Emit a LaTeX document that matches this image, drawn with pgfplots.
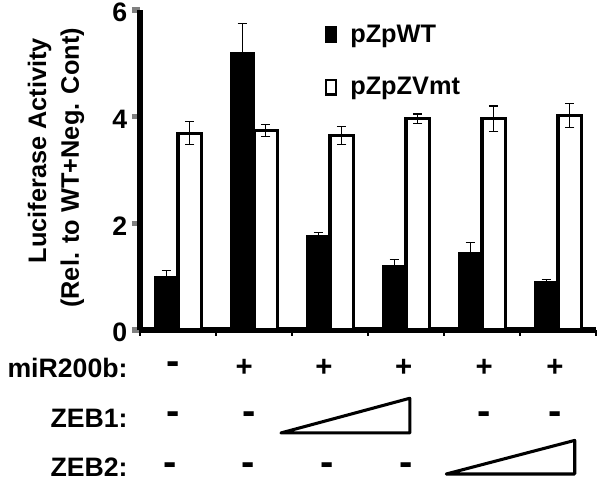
\documentclass[border=0pt]{standalone}
\usepackage{graphicx}
\usepackage{pgfplots}
\pgfplotsset{compat=1.18}
\usepackage{fontspec}
\setmainfont{Liberation Sans}
\newcommand{\dash}{\scalebox{1.5}{-}}
\begin{document}
\begin{tikzpicture}
\begin{axis}[
  at={(0,0)}, anchor=south west,
  scale only axis,
  width=342pt, height=240pt,
  xmin=-0.5, xmax=5.5, ymin=0, ymax=6,
  enlargelimits=false,
  clip=false,
  axis x line=bottom, axis y line=left,
  axis line style={-, line width=4.2pt},
  ytick={0,2,4,6},
  xtick=\empty,
  tick align=outside,
  major tick length=6pt,
  y tick style={line width=4.2pt},
  /pgf/number format/assume math mode=true,
  yticklabel style={font=\fontsize{20}{22}\selectfont\bfseries, xshift=0pt, yshift=-2pt},
  ybar=0pt,
  bar width=17.5pt,
  legend style={at={(axis cs:1.93,5.78)}, anchor=north west, draw=none, fill=none,
    font=\fontsize{19}{22}\selectfont\bfseries, row sep=21pt, inner sep=0pt,
    nodes={inner sep=2pt}},
  legend cell align=left,
  legend image code/.code={\draw[#1, line width=1.8pt] (0.9pt,-5.5pt) rectangle (8.5pt,5.5pt);
     \path[draw=none, fill=none] (0pt,0pt) rectangle (17pt,0.1pt);},
]
\addplot[fill=black, draw=black, line width=1pt,
  error bars/.cd, y dir=both, y explicit,
  error bar style={line width=0.8pt, black},
  error mark options={rotate=90, mark size=3.5pt, line width=0.8pt}]
coordinates {
  (0,1.00) +- (0,0.11)
  (1,5.20) +- (0,0.55)
  (2,1.76) +- (0,0.07)
  (3,1.21) +- (0,0.12)
  (4,1.45) +- (0,0.19)
  (5,0.90) +- (0,0.05)
};
\addlegendentry{pZpWT}
\addplot[fill=white, draw=black, line width=2.4pt,
  error bars/.cd, y dir=both, y explicit,
  error bar style={line width=0.8pt, black},
  error mark options={rotate=90, mark size=3.5pt, line width=0.8pt}]
coordinates {
  (0,3.69) +- (0,0.22)
  (1,3.74) +- (0,0.11)
  (2,3.64) +- (0,0.17)
  (3,3.96) +- (0,0.09)
  (4,3.96) +- (0,0.24)
  (5,4.02) +- (0,0.22)
};
\addlegendentry{pZpZVmt}

% small x ticks at group boundaries
\pgfplotsinvokeforeach{-0.5,0.5,1.5,2.5,3.5,4.5,5.5}{
  \draw[line width=2pt] (axis cs:#1,0) -- ++(0pt,-4.5pt);
}

% y label
\node[rotate=90, font=\fontsize{19}{22}\selectfont\bfseries] at (axis cs:-1.82,3.36) {Luciferase Activity};
\node[rotate=90, font=\fontsize{19}{22}\selectfont\bfseries] at (axis cs:-1.39,3.04) {(Rel. to WT+Neg. Cont)};

% table rows
\begin{scope}[every node/.style={font=\fontsize{20}{22}\selectfont\bfseries, inner sep=1pt}]
\node[anchor=east, inner sep=0pt] at (axis cs:-0.66,-0.71) {miR200b:};
\node[anchor=east, inner sep=0pt] at (axis cs:-0.66,-1.65) {ZEB1:};
\node[anchor=east, inner sep=0pt] at (axis cs:-0.66,-2.58) {ZEB2:};
\node at (axis cs:-0.07,-0.71) {\dash};
\node at (axis cs:0.87,-0.71) {\fontsize{22}{22}\selectfont +};
\node at (axis cs:1.92,-0.71) {\fontsize{22}{22}\selectfont +};
\node at (axis cs:2.97,-0.71) {\fontsize{22}{22}\selectfont +};
\node at (axis cs:4.03,-0.71) {\fontsize{22}{22}\selectfont +};
\node at (axis cs:4.96,-0.71) {\fontsize{22}{22}\selectfont +};
\node at (axis cs:-0.07,-1.65) {\dash};
\node at (axis cs:0.93,-1.65) {\dash};
\node at (axis cs:4.03,-1.65) {\dash};
\node at (axis cs:4.96,-1.65) {\dash};
\node at (axis cs:-0.1,-2.6) {\dash};
\node at (axis cs:0.92,-2.6) {\dash};
\node at (axis cs:1.96,-2.6) {\dash};
\node at (axis cs:3.0,-2.6) {\dash};
\end{scope}
\draw[line width=2.3pt, line join=round] (axis cs:1.355,-1.93) -- (axis cs:3.05,-1.93) -- (axis cs:3.05,-1.28) -- cycle;
\draw[line width=2.3pt, line join=round] (axis cs:3.53,-2.70) -- (axis cs:5.22,-2.70) -- (axis cs:5.22,-2.07) -- cycle;
\end{axis}
\pgfresetboundingbox
\useasboundingbox (-105pt,-113.25pt) rectangle (345pt,247.5pt);
\end{tikzpicture}
\end{document}
